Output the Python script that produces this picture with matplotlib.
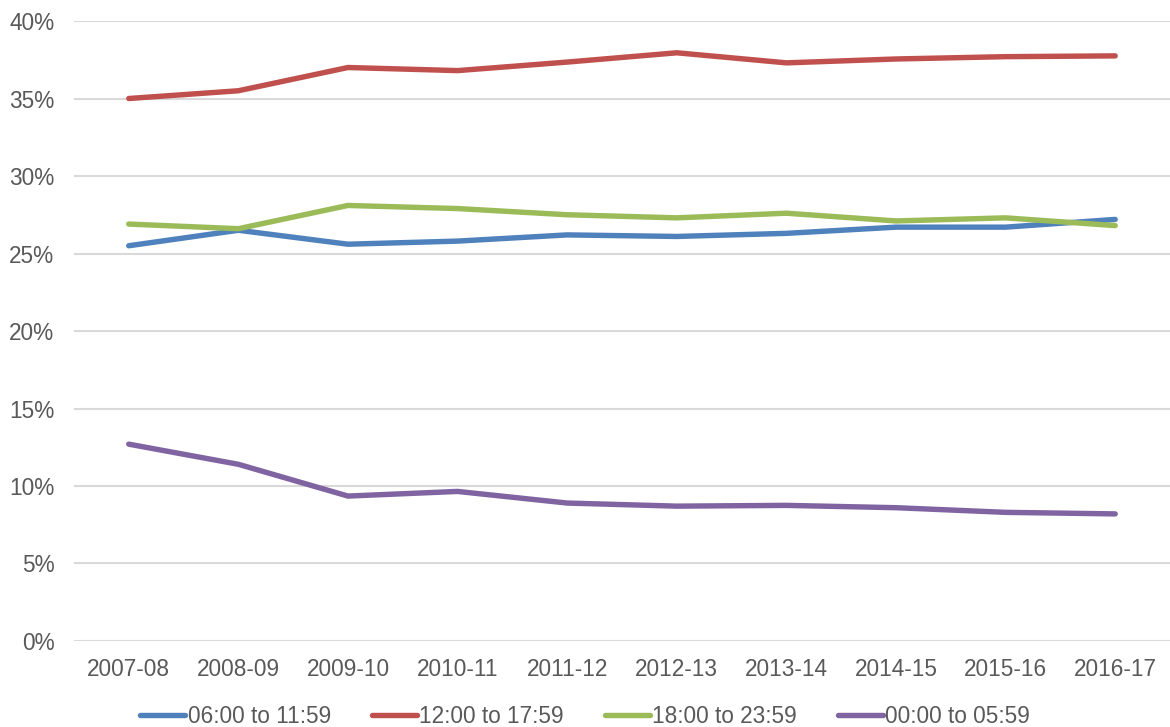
import numpy as np
import matplotlib.pyplot as plt
from matplotlib.ticker import FuncFormatter

years = ['2007-08', '2008-09', '2009-10', '2010-11', '2011-12',
         '2012-13', '2013-14', '2014-15', '2015-16', '2016-17']
morning = [25.5, 26.5, 25.6, 25.8, 26.2, 26.1, 26.3, 26.7, 26.7, 27.2]
afternoon = [35.0, 35.5, 37.0, 36.8, 37.35, 37.95, 37.3, 37.55, 37.7, 37.75]
evening = [26.9, 26.6, 28.1, 27.9, 27.5, 27.3, 27.6, 27.1, 27.3, 26.8]
night = [12.7, 11.4, 9.35, 9.65, 8.9, 8.7, 8.75, 8.6, 8.3, 8.2]
labels = ['06:00 to 11:59', '12:00 to 17:59', '18:00 to 23:59', '00:00 to 05:59']
colors = ['#4F81BD', '#C0504D', '#9BBB59', '#8064A2']

plt.rcParams['font.family'] = ['Liberation Sans', 'DejaVu Sans']
txt = '#595959'
fs = 16.3

fig = plt.figure(figsize=(11.7, 7.27), dpi=100)
ax = fig.add_axes([0.0632, 0.1183, 0.9368, 0.8528])

x = np.arange(len(years))
for ys, lab, c in zip([morning, afternoon, evening, night], labels, colors):
	ax.plot(x, ys, color=c, lw=3.9, label=lab, solid_capstyle='round', solid_joinstyle='round')

ax.set_xlim(-0.5, len(years) - 0.5)
ax.set_ylim(0, 40)
ax.set_yticks(np.arange(0, 41, 5))
ax.yaxis.set_major_formatter(FuncFormatter(lambda v, p: '%d%%' % v))
ax.set_xticks(x)
ax.set_xticklabels(years)
ax.grid(axis='y', color='#D9D9D9', lw=1.5)
ax.set_axisbelow(True)
for s in ax.spines.values():
	s.set_visible(False)
ax.tick_params(length=0, labelsize=fs, colors=txt)
ax.tick_params(axis='x', pad=12)
ax.tick_params(axis='y', pad=14)

# legend is centred on the figure, not the axes
leg = fig.legend(*ax.get_legend_handles_labels(), loc='center', bbox_to_anchor=(0.5, 0.015),
	ncol=4, frameon=False, fontsize=fs, handlelength=2.0, handletextpad=0.1, columnspacing=1.8)
for t in leg.get_texts():
	t.set_color(txt)

fig.savefig('out.png', dpi=100)
